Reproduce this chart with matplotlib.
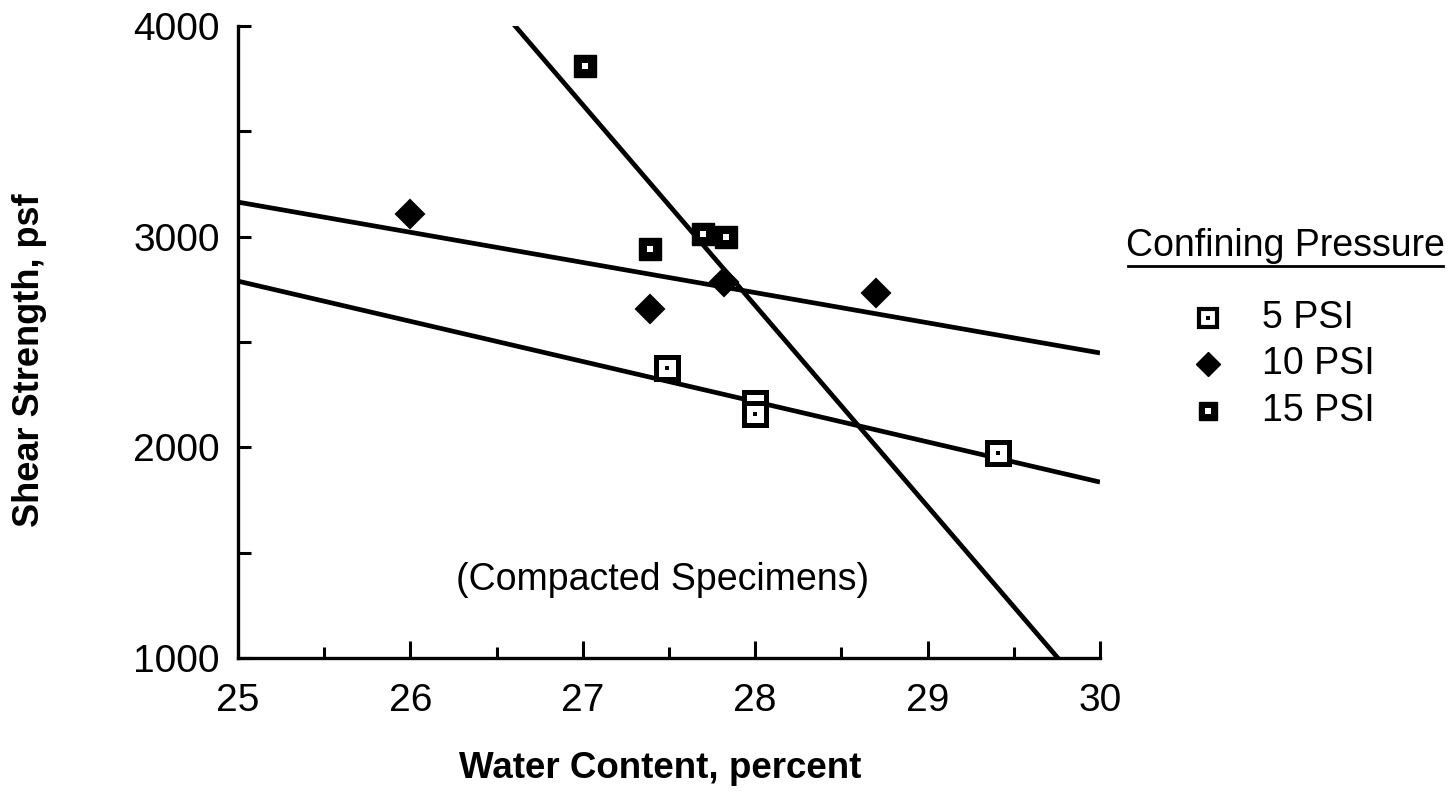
import matplotlib
matplotlib.use("Agg")
import matplotlib.pyplot as plt
from matplotlib.ticker import MultipleLocator
from matplotlib.lines import Line2D

plt.rcParams['font.family'] = ['Liberation Sans', 'DejaVu Sans']

# Data
wc_5 = [27.49, 28.0, 28.0, 29.41]
ss_5 = [2375, 2210, 2160, 1973]
wc_10 = [26.0, 27.39, 27.82, 28.70]
ss_10 = [3107, 2656, 2786, 2732]
wc_15 = [27.01, 27.39, 27.70, 27.83]
ss_15 = [3810, 2941, 3012, 2998]

# Fitted trend lines (end points)
fit_5_x = [25.0, 30.0]
fit_5_y = [2789, 1835]
fit_10_x = [25.0, 30.0]
fit_10_y = [3164, 2448]
fit_15_x = [25.0, 30.0]
fit_15_y = [5532, 767]

legend_title = 'Confining Pressure'
legend_labels = ['5 PSI', '10 PSI', '15 PSI']

fig = plt.figure(figsize=(14.52, 7.91), dpi=100)
ax = fig.add_axes([238/1452, 1-658/791, (1100-238)/1452, (658-26)/791])

lw = 3.4
for fx, fy in [(fit_5_x, fit_5_y), (fit_10_x, fit_10_y), (fit_15_x, fit_15_y)]:
    ax.plot(fx, fy, color='black', lw=lw, solid_capstyle='butt', zorder=2)

ms = 15.5
# 5 PSI: open square with central dot
ax.plot(wc_5, ss_5, ls='none', marker='s', ms=ms, mfc='white', mec='black', mew=3.6, zorder=3)
ax.plot(wc_5, ss_5, ls='none', marker='s', ms=3.5, mfc='black', mec='black', mew=0, zorder=4)
# 10 PSI: filled diamond
ax.plot(wc_10, ss_10, ls='none', marker='D', ms=14.5, mfc='black', mec='black', mew=1.5, zorder=3)
# 15 PSI: filled square with white centre
ax.plot(wc_15, ss_15, ls='none', marker='s', ms=ms, mfc='black', mec='black', mew=1, zorder=3)
ax.plot(wc_15, ss_15, ls='none', marker='s', ms=5, mfc='white', mec='white', mew=0, zorder=4)

ax.set_xlim(25, 30)
ax.set_ylim(1000, 4000)

for s in ['top', 'right']:
    ax.spines[s].set_visible(False)
for s in ['left', 'bottom']:
    ax.spines[s].set_linewidth(2.4)

ax.xaxis.set_major_locator(MultipleLocator(1))
ax.xaxis.set_minor_locator(MultipleLocator(0.5))
ax.yaxis.set_major_locator(MultipleLocator(1000))
ax.yaxis.set_minor_locator(MultipleLocator(500))
ax.tick_params(axis='both', which='major', direction='in', width=2.2, labelsize=28)
ax.tick_params(axis='x', which='major', length=12, pad=18)
ax.tick_params(axis='x', which='minor', direction='in', length=8, width=2.2)
ax.tick_params(axis='y', which='major', length=9, pad=13)
ax.tick_params(axis='y', which='minor', direction='in', length=9, width=2.2)

ax.set_xlabel('Water Content, percent', fontsize=26.5, fontweight='bold')
ax.set_ylabel('Shear Strength, psf', fontsize=26, fontweight='bold')
ax.xaxis.set_label_coords((660-238)/862, (658-768)/632)
ax.xaxis.label.set_va('center')
ax.yaxis.set_label_coords((30-238)/862, (658-360)/632)
ax.yaxis.label.set_va('center')

ax.text(27.46, 1370, '(Compacted Specimens)', fontsize=27, ha='center', va='center')

# Legend
fig.text(1285/1452, 1-246/791, legend_title, fontsize=27, ha='center', va='center')
fig.add_artist(Line2D([1128/1452, 1443/1452], [1-266/791, 1-266/791], color='black', lw=2))
ys = [318, 364, 411]
for lab, yy in zip(legend_labels, ys):
    fig.text(1262/1452, 1-yy/791, lab, fontsize=27, ha='left', va='center')
lx = 1208/1452
fig.add_artist(Line2D([lx], [1-ys[0]/791], ls='none', marker='s', ms=13, mfc='white', mec='black', mew=3))
fig.add_artist(Line2D([lx], [1-ys[0]/791], ls='none', marker='s', ms=3, mfc='black', mec='black', mew=0))
fig.add_artist(Line2D([lx], [1-ys[1]/791], ls='none', marker='D', ms=12.5, mfc='black', mec='black', mew=1))
fig.add_artist(Line2D([lx], [1-ys[2]/791], ls='none', marker='s', ms=13, mfc='black', mec='black', mew=1))
fig.add_artist(Line2D([lx], [1-ys[2]/791], ls='none', marker='s', ms=4, mfc='white', mec='white', mew=0))

fig.savefig('out.png', dpi=100, facecolor='white')
